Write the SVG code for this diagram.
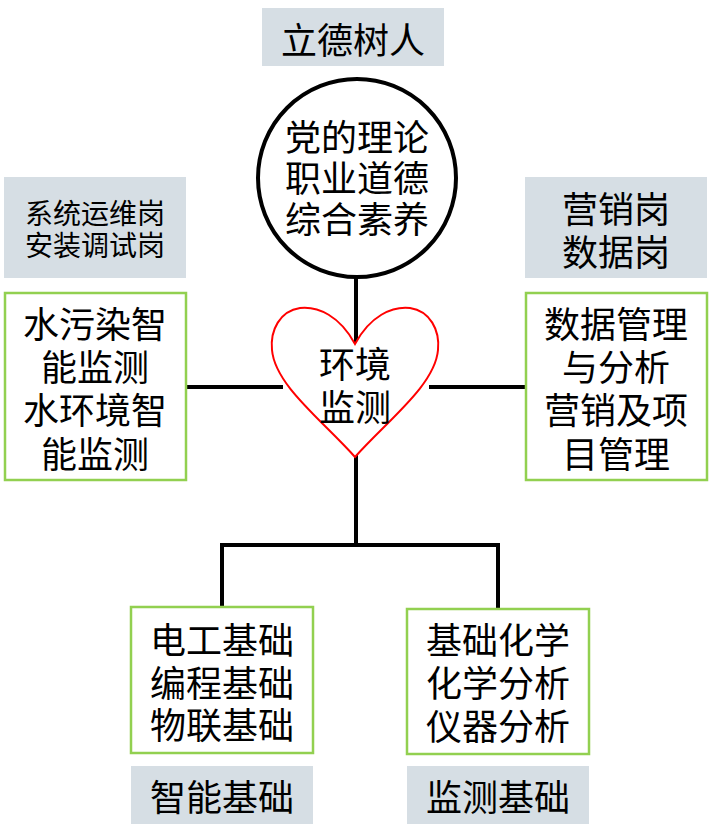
<svg xmlns="http://www.w3.org/2000/svg" width="722" height="824" viewBox="0 0 722 824">
<style>
.t{font-family:"Noto Sans CJK SC","Noto Sans",sans-serif;font-size:36px;fill:#000;text-anchor:middle;dominant-baseline:central}
.s{font-size:28px}
.gray{fill:#D6DEE4;stroke:none}
.green{fill:#fff;stroke:#92D050;stroke-width:2.5}
.ln{stroke:#000;stroke-width:4;fill:none}
</style>
<rect width="722" height="824" fill="#fff"/>
<g id="connectors">
<line class="ln" x1="356" y1="277" x2="356" y2="346"/>
<line class="ln" x1="186" y1="387" x2="283" y2="387"/>
<line class="ln" x1="429" y1="387" x2="525" y2="387"/>
<line class="ln" x1="356" y1="455" x2="356" y2="545"/>
<polyline class="ln" points="222,607 222,545 498,545 498,609"/>
</g>
<g id="title">
<rect class="gray" x="262" y="8" width="182" height="58"/>
<text class="t" x="353" y="38">立德树人</text>
</g>
<g id="circle">
<circle cx="357" cy="178" r="99" fill="#fff" stroke="#000" stroke-width="4"/>
<text class="t" x="357" y="135">党的理论</text>
<text class="t" x="357" y="176">职业道德</text>
<text class="t" x="357" y="217">综合素养</text>
</g>
<g id="heart">
<path d="M355,344 C340,316 318,306 300,308 C280,311 270,330 272,350 C275,385 322,420 355,457 C388,420 435,385 438,350 C440,330 430,311 410,308 C392,306 370,316 355,344 Z" fill="#fff" stroke="#FF0000" stroke-width="2"/>
<text class="t" x="355" y="362">环境</text>
<text class="t" x="355" y="405">监测</text>
</g>
<g id="left-post">
<rect class="gray" x="4" y="177" width="182" height="101"/>
<text class="t s" x="95" y="212">系统运维岗</text>
<text class="t s" x="95" y="244">安装调试岗</text>
</g>
<g id="left-box">
<rect class="green" x="5" y="293" width="181" height="187"/>
<text class="t" x="95" y="322">水污染智</text>
<text class="t" x="95" y="365">能监测</text>
<text class="t" x="95" y="408">水环境智</text>
<text class="t" x="95" y="452">能监测</text>
</g>
<g id="right-post">
<rect class="gray" x="525" y="177" width="182" height="101"/>
<text class="t" x="616" y="207">营销岗</text>
<text class="t" x="616" y="250">数据岗</text>
</g>
<g id="right-box">
<rect class="green" x="526" y="293" width="181" height="187"/>
<text class="t" x="616" y="322">数据管理</text>
<text class="t" x="616" y="365">与分析</text>
<text class="t" x="616" y="408">营销及项</text>
<text class="t" x="616" y="452">目管理</text>
</g>
<g id="bottom-left-box">
<rect class="green" x="131" y="607" width="182" height="146"/>
<text class="t" x="222" y="638">电工基础</text>
<text class="t" x="222" y="681">编程基础</text>
<text class="t" x="222" y="723">物联基础</text>
</g>
<g id="bottom-right-box">
<rect class="green" x="407" y="609" width="182" height="145"/>
<text class="t" x="498" y="638">基础化学</text>
<text class="t" x="498" y="681">化学分析</text>
<text class="t" x="498" y="724">仪器分析</text>
</g>
<g id="bottom-left-label">
<rect class="gray" x="131" y="766" width="182" height="58"/>
<text class="t" x="222" y="795">智能基础</text>
</g>
<g id="bottom-right-label">
<rect class="gray" x="407" y="766" width="182" height="58"/>
<text class="t" x="498" y="795">监测基础</text>
</g>
</svg>
